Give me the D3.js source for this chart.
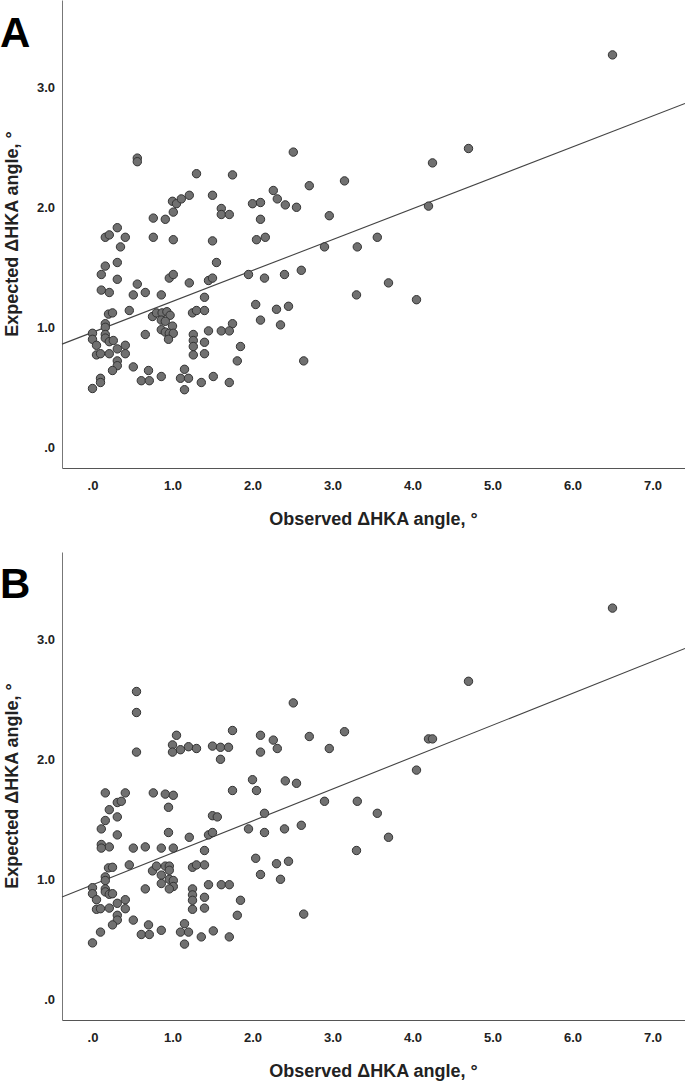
<!DOCTYPE html>
<html>
<head>
<meta charset="utf-8">
<script src="https://cdn.jsdelivr.net/npm/d3@7"></script>
<style>
  body { margin: 0; background: #fff; }
  svg { display: block; }
</style>
</head>
<body>
<svg id="chart"></svg>
<script>
// tick values and labels (SPSS style ".0")
const xTicks = [0, 1, 2, 3, 4, 5, 6, 7];
const xTickLabels = [".0", "1.0", "2.0", "3.0", "4.0", "5.0", "6.0", "7.0"];
const yTicks = [0, 1, 2, 3];
const yTickLabels = [".0", "1.0", "2.0", "3.0"];

const panelLabels = ["A", "B"];
const xTitle = "Observed \u0394HKA angle, \u00B0";
const yTitle = "Expected \u0394HKA angle, \u00B0";

// [observed, expected] pairs
const pointsA = [
  [0.56,2.41],[0.56,2.38],[1.30,2.28],[1.75,2.27],[1.00,2.05],[1.05,2.03],[1.11,2.07],[1.21,2.10],[1.50,2.10],[2.00,2.03],
  [1.61,1.99],[1.61,1.94],[1.71,1.94],[1.01,1.96],[0.76,1.91],[0.91,1.90],[0.31,1.83],[0.16,1.75],[0.21,1.77],[0.41,1.75],
  [0.76,1.75],[1.01,1.73],[1.50,1.72],[2.05,1.73],[0.35,1.67],[0.16,1.51],[0.31,1.54],[1.55,1.54],[0.11,1.44],[0.31,1.40],
  [0.96,1.41],[1.01,1.44],[1.21,1.37],[1.45,1.39],[1.50,1.41],[1.95,1.44],[0.11,1.31],[0.21,1.29],[0.56,1.36],[0.51,1.27],
  [0.66,1.29],[0.86,1.27],[1.40,1.25],[2.04,1.19],[0.20,1.11],[0.25,1.12],[0.46,1.14],[0.75,1.09],[0.80,1.12],[0.87,1.12],
  [0.93,1.13],[0.97,1.10],[0.86,1.06],[0.91,1.05],[1.00,1.01],[0.86,0.98],[0.91,0.96],[0.96,0.95],[1.01,0.95],[0.95,0.90],
  [1.25,1.12],[1.30,1.14],[1.40,1.14],[1.75,1.03],[1.61,0.97],[1.71,0.97],[1.45,0.97],[1.26,0.94],[1.26,0.89],[1.26,0.84],
  [1.26,0.77],[1.40,0.875],[1.40,0.78],[1.85,0.84],[1.81,0.72],[0.66,0.94],[0.00,0.95],[0.00,0.90],[0.16,1.03],[0.16,1.00],
  [0.16,0.94],[0.16,0.91],[0.21,0.88],[0.26,0.89],[0.05,0.85],[0.41,0.85],[0.05,0.77],[0.10,0.78],[0.21,0.78],[0.31,0.82],
  [0.41,0.78],[0.31,0.72],[0.31,0.68],[0.25,0.64],[0.51,0.67],[0.70,0.64],[0.10,0.575],[0.10,0.54],[0.00,0.49],[0.61,0.555],
  [0.71,0.555],[0.86,0.59],[1.15,0.65],[1.10,0.575],[1.20,0.575],[1.15,0.48],[1.36,0.54],[1.51,0.59],[1.71,0.54],
  [2.51,2.46],[3.15,2.22],[2.71,2.18],[2.26,2.14],[2.31,2.07],[2.10,2.04],[2.41,2.02],[2.55,2.00],[2.10,1.90],[2.96,1.93],
  [2.16,1.75],[3.56,1.75],[2.90,1.67],[3.31,1.67],[2.15,1.41],[2.40,1.44],[2.61,1.475],[3.70,1.37],[3.30,1.27],[2.30,1.15],
  [2.45,1.175],[2.10,1.06],[2.35,1.02],[6.50,3.27],[4.70,2.49],[4.25,2.37],[4.20,2.01],[4.05,1.23],[2.64,0.72]
];

const pointsB = [
  [0.55,2.565],[0.55,2.39],[0.55,2.06],[1.05,2.20],[1.00,2.12],[1.00,2.06],[1.10,2.08],[1.20,2.105],[1.30,2.09],[1.50,2.11],
  [1.60,2.10],[1.70,2.10],[1.60,2.00],[1.75,2.24],[0.16,1.72],[0.41,1.72],[0.76,1.72],[0.91,1.71],[1.01,1.70],[1.75,1.74],
  [2.00,1.83],[2.05,1.74],[0.31,1.64],[0.36,1.65],[0.95,1.60],[0.21,1.58],[0.16,1.49],[0.31,1.52],[1.50,1.53],[1.56,1.52],
  [0.11,1.42],[0.31,1.37],[0.95,1.39],[1.21,1.35],[1.45,1.37],[1.50,1.39],[1.95,1.42],[0.11,1.29],[0.21,1.27],[0.11,1.26],
  [0.51,1.26],[0.66,1.27],[0.86,1.26],[1.01,1.26],[1.40,1.24],[2.04,1.175],[0.20,1.095],[0.25,1.10],[0.46,1.12],[0.75,1.07],
  [0.80,1.11],[0.91,1.11],[0.96,1.11],[0.96,1.075],[0.86,1.035],[0.86,0.965],[0.96,1.00],[1.01,0.99],[1.01,0.94],[0.96,0.92],
  [1.25,1.10],[1.30,1.12],[1.40,1.12],[0.66,0.92],[1.25,0.92],[1.25,0.87],[1.25,0.825],[1.25,0.75],[1.40,0.85],[1.40,0.76],
  [1.45,0.955],[1.61,0.955],[1.71,0.955],[1.85,0.825],[1.81,0.70],[0.00,0.93],[0.00,0.88],[0.16,1.02],[0.16,0.99],[0.16,0.92],
  [0.16,0.895],[0.21,0.875],[0.25,0.88],[0.05,0.83],[0.41,0.83],[0.05,0.75],[0.10,0.755],[0.21,0.76],[0.31,0.80],[0.41,0.755],
  [0.31,0.70],[0.31,0.66],[0.25,0.62],[0.51,0.66],[0.70,0.62],[0.10,0.56],[0.00,0.47],[0.61,0.54],[0.71,0.54],[0.86,0.575],
  [1.15,0.63],[1.10,0.56],[1.20,0.56],[1.15,0.46],[1.36,0.52],[1.51,0.57],[1.71,0.52],
  [2.51,2.47],[3.15,2.23],[2.10,2.20],[2.71,2.19],[2.26,2.16],[2.31,2.09],[2.10,2.06],[2.96,2.09],[2.41,1.82],[2.55,1.80],
  [2.90,1.65],[3.31,1.65],[3.56,1.55],[2.15,1.55],[2.15,1.39],[2.40,1.42],[2.61,1.45],[3.70,1.35],[3.30,1.24],[2.30,1.13],
  [2.45,1.15],[2.10,1.04],[2.35,1.00],[6.50,3.26],[4.70,2.65],[4.20,2.17],[4.25,2.17],[4.05,1.91],[2.64,0.71]
];

// fitted line: [intercept, slope]
const fitA = [0.958, 0.2575];
const fitB = [0.954, 0.266];

const width = 685, height = 1081;
const panelH = 552;
const plot = { left: 62, right: 685, top: 0, bottom: 468 };

const font = "'Liberation Sans', Arial, sans-serif";

const svg = d3.select("#chart")
  .attr("width", width)
  .attr("height", height);

const x = d3.scaleLinear()
  .domain([-0.38125, 7.40625])
  .range([plot.left, plot.right]);

const y = d3.scaleLinear()
  .domain([-0.1725, 3.7275])
  .range([plot.bottom, plot.top]);

function drawPanel(offset, points, fit, label) {
  const g = svg.append("g").attr("transform", `translate(0,${offset})`);

  // x axis
  const xAxis = g.append("g")
    .attr("transform", `translate(0,${plot.bottom})`)
    .call(d3.axisBottom(x).tickValues(xTicks).tickSize(0).tickSizeOuter(0)
      .tickPadding(13).tickFormat((d, i) => xTickLabels[i]));
  xAxis.select(".domain").attr("stroke", "#555").attr("stroke-width", 1.2);
  xAxis.selectAll("text")
    .attr("fill", "#222")
    .style("font-family", font)
    .style("font-weight", "bold")
    .style("font-size", "13px");

  // y axis
  const yAxis = g.append("g")
    .attr("transform", `translate(${plot.left},0)`)
    .call(d3.axisLeft(y).tickValues(yTicks).tickSize(0).tickSizeOuter(0)
      .tickPadding(7).tickFormat((d, i) => yTickLabels[i]));
  yAxis.select(".domain").attr("stroke", "#777").attr("stroke-width", 1);
  yAxis.selectAll("text")
    .attr("fill", "#222")
    .style("font-family", font)
    .style("font-weight", "bold")
    .style("font-size", "13px");

  // fit line across full x range
  const xd = x.domain();
  const line = d3.line().x(d => x(d)).y(d => y(fit[0] + fit[1] * d));
  g.append("path")
    .datum(xd)
    .attr("d", line)
    .attr("fill", "none")
    .attr("stroke", "#444")
    .attr("stroke-width", 1.1);

  // points
  g.append("g").selectAll("circle")
    .data(points)
    .join("circle")
    .attr("cx", d => x(d[0]))
    .attr("cy", d => y(d[1]))
    .attr("r", 4.2)
    .attr("fill", "#707070")
    .attr("stroke", "#333")
    .attr("stroke-width", 1);

  // axis titles
  g.append("text")
    .attr("x", (plot.left + plot.right) / 2)
    .attr("y", 525)
    .attr("text-anchor", "middle")
    .style("font-family", font)
    .style("font-weight", "bold")
    .style("font-size", "18px")
    .attr("fill", "#222")
    .text(xTitle);

  g.append("text")
    .attr("transform", `translate(18,${(plot.top + plot.bottom) / 2}) rotate(-90)`)
    .attr("text-anchor", "middle")
    .style("font-family", font)
    .style("font-weight", "bold")
    .style("font-size", "18px")
    .attr("fill", "#222")
    .text(yTitle);

  // panel letter
  g.append("text")
    .attr("x", 0)
    .attr("y", label === "A" ? 47 : 46)
    .style("font-family", font)
    .style("font-weight", "bold")
    .style("font-size", "42px")
    .attr("fill", "#000")
    .text(label);
}

drawPanel(0, pointsA, fitA, panelLabels[0]);
drawPanel(panelH, pointsB, fitB, panelLabels[1]);
</script>
</body>
</html>
